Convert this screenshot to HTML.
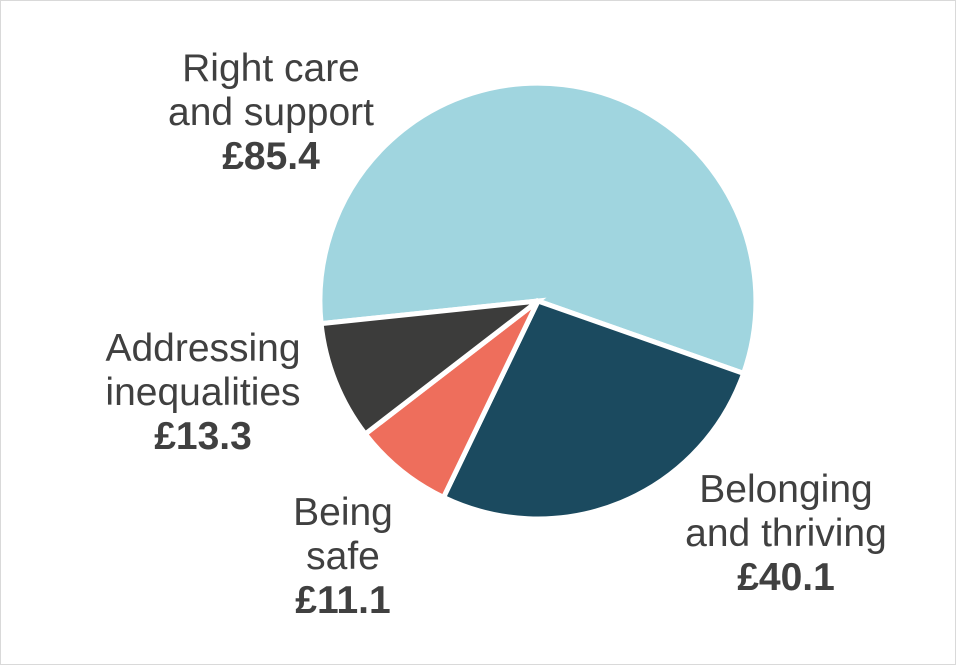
<!DOCTYPE html>
<html><head><meta charset="utf-8"><style>
html,body{margin:0;padding:0;background:#fff;}
.wrap{position:relative;width:954px;height:663px;border:1px solid #d9d9d9;overflow:hidden;font-family:"Liberation Sans",sans-serif;color:#404040;}
.l{position:absolute;text-align:center;font-size:39px;line-height:44px;white-space:nowrap;}
.l b{font-weight:bold;}
</style></head><body><div class="wrap">
<svg width="956" height="665" style="position:absolute;left:-1px;top:-1px">
<g stroke="#fff" stroke-width="5" stroke-linejoin="miter">
<path d="M538,301 L321.1,323.6 A218,218 0 1 1 743.6,373.4 Z" fill="#a0d5df"/>
<path d="M538,301 L743.6,373.4 A218,218 0 0 1 443.5,497.4 Z" fill="#1b4a5f"/>
<path d="M538,301 L443.5,497.4 A218,218 0 0 1 365.3,434 Z" fill="#ee6e5c"/>
<path d="M538,301 L365.3,434 A218,218 0 0 1 321.1,323.6 Z" fill="#3c3c3b"/>
</g>
</svg>
<div class="l" style="left:120px;top:46px;width:300px">Right care<br>and support<br><b>£85.4</b></div>
<div class="l" style="left:52px;top:326px;width:300px">Addressing<br>inequalities<br><b>£13.3</b></div>
<div class="l" style="left:242px;top:490px;width:200px">Being<br>safe<br><b>£11.1</b></div>
<div class="l" style="left:635px;top:467px;width:300px">Belonging<br>and thriving<br><b>£40.1</b></div>
</div></body></html>
